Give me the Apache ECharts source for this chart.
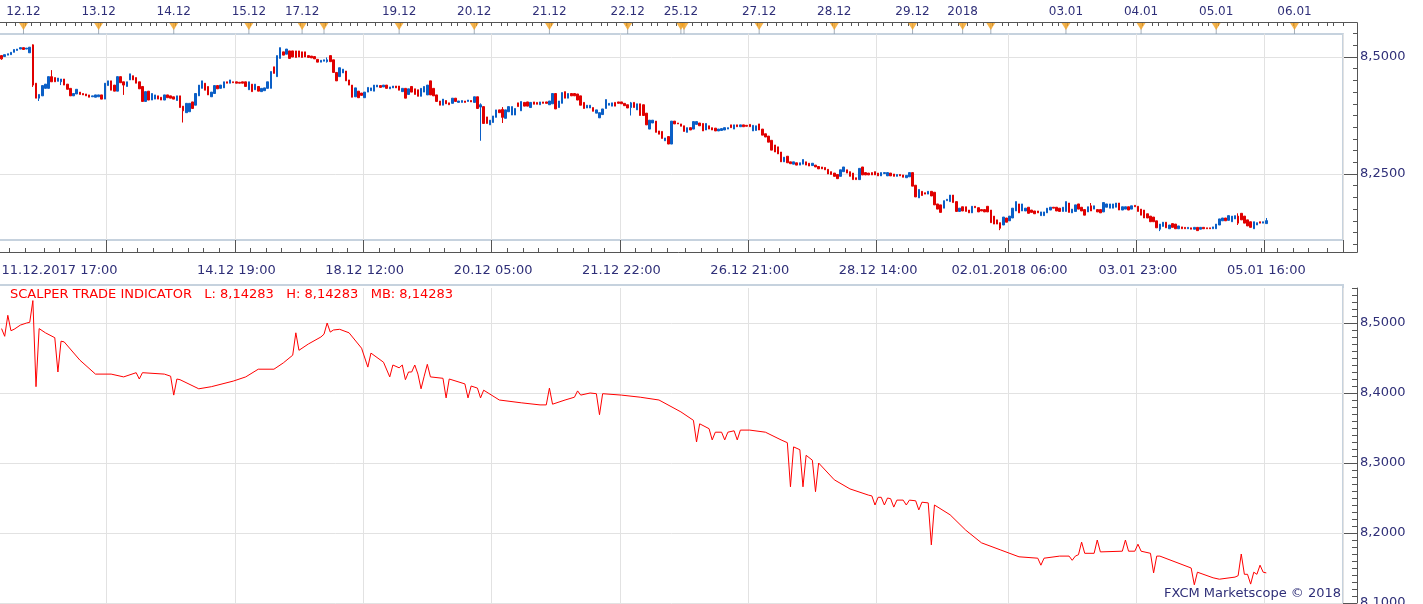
<!DOCTYPE html>
<html><head><meta charset="utf-8">
<script src="https://cdn.jsdelivr.net/npm/echarts@6/dist/echarts.min.js"></script>
<style>html,body{margin:0;padding:0;background:#fff;overflow:hidden}#c{width:1423px;height:604px}</style>
</head><body><div id="c"></div>
<script>
// ---------------- DATA ----------------
const SLOTS = 429; // hourly slots on the time axis (bars + empty future slots)
// hourly candles [open, close, low, high]
const candles = [
[8.503,8.496,8.494,8.503],[8.501,8.505,8.501,8.505],[8.504,8.507,8.504,8.507],[8.505,8.510,8.505,8.510],[8.510,8.516,8.510,8.516],
[8.514,8.517,8.514,8.517],[8.517,8.520,8.517,8.520],[8.520,8.516,8.516,8.520],[8.517,8.519,8.517,8.519],[8.509,8.521,8.509,8.521],
[8.526,8.440,8.436,8.527],[8.444,8.412,8.412,8.444],[8.412,8.420,8.406,8.420],[8.417,8.439,8.417,8.439],[8.433,8.442,8.433,8.442],
[8.433,8.458,8.433,8.458],[8.458,8.447,8.447,8.472],[8.456,8.447,8.447,8.456],[8.448,8.455,8.448,8.455],[8.447,8.453,8.440,8.453],
[8.453,8.440,8.440,8.453],[8.442,8.431,8.431,8.442],[8.433,8.417,8.417,8.433],[8.417,8.422,8.417,8.422],[8.421,8.431,8.421,8.431],
[8.425,8.420,8.420,8.425],[8.422,8.419,8.419,8.422],[8.421,8.417,8.417,8.421],[8.419,8.414,8.414,8.419],[8.415,8.417,8.415,8.417],
[8.414,8.419,8.414,8.419],[8.415,8.419,8.415,8.419],[8.419,8.410,8.410,8.419],[8.410,8.444,8.410,8.444],[8.439,8.449,8.439,8.449],
[8.449,8.429,8.429,8.449],[8.440,8.427,8.427,8.440],[8.427,8.458,8.427,8.458],[8.458,8.445,8.445,8.458],[8.447,8.440,8.419,8.447],
[8.437,8.447,8.437,8.447],[8.451,8.464,8.451,8.464],[8.460,8.451,8.451,8.460],[8.456,8.444,8.444,8.456],[8.447,8.432,8.432,8.447],
[8.437,8.405,8.405,8.437],[8.405,8.426,8.405,8.426],[8.427,8.408,8.408,8.427],[8.408,8.422,8.408,8.422],[8.410,8.419,8.410,8.419],
[8.417,8.410,8.410,8.417],[8.414,8.408,8.408,8.414],[8.408,8.419,8.408,8.419],[8.419,8.413,8.413,8.419],[8.417,8.412,8.412,8.417],
[8.415,8.410,8.410,8.415],[8.407,8.417,8.407,8.417],[8.417,8.392,8.392,8.417],[8.395,8.385,8.360,8.395],[8.381,8.401,8.381,8.401],
[8.383,8.401,8.383,8.401],[8.404,8.390,8.390,8.404],[8.397,8.422,8.397,8.422],[8.417,8.440,8.417,8.440],[8.433,8.449,8.433,8.449],
[8.444,8.429,8.429,8.444],[8.437,8.419,8.419,8.437],[8.415,8.425,8.415,8.425],[8.422,8.439,8.422,8.439],[8.439,8.432,8.432,8.439],
[8.433,8.440,8.433,8.440],[8.434,8.447,8.434,8.447],[8.447,8.444,8.444,8.447],[8.444,8.451,8.444,8.451],[8.447,8.445,8.445,8.447],
[8.447,8.444,8.444,8.447],[8.446,8.444,8.444,8.446],[8.447,8.444,8.444,8.447],[8.447,8.437,8.437,8.447],[8.430,8.447,8.430,8.447],
[8.442,8.426,8.426,8.442],[8.430,8.442,8.430,8.442],[8.437,8.427,8.427,8.437],[8.426,8.433,8.426,8.433],[8.428,8.434,8.428,8.434],
[8.433,8.447,8.433,8.447],[8.433,8.469,8.433,8.469],[8.479,8.465,8.465,8.479],[8.458,8.503,8.458,8.503],[8.497,8.520,8.497,8.520],
[8.511,8.504,8.504,8.511],[8.506,8.517,8.506,8.517],[8.513,8.497,8.497,8.513],[8.513,8.500,8.500,8.513],[8.513,8.499,8.499,8.513],
[8.513,8.500,8.500,8.513],[8.511,8.499,8.499,8.511],[8.511,8.500,8.500,8.511],[8.503,8.499,8.499,8.503],[8.502,8.498,8.498,8.502],
[8.501,8.496,8.496,8.501],[8.495,8.489,8.489,8.495],[8.489,8.493,8.489,8.493],[8.491,8.494,8.491,8.494],[8.490,8.494,8.488,8.499],
[8.503,8.490,8.490,8.503],[8.494,8.467,8.467,8.494],[8.467,8.449,8.449,8.467],[8.458,8.477,8.458,8.477],[8.466,8.474,8.466,8.474],
[8.470,8.449,8.449,8.470],[8.451,8.440,8.440,8.451],[8.440,8.414,8.414,8.440],[8.415,8.434,8.415,8.434],[8.427,8.413,8.413,8.427],
[8.423,8.418,8.418,8.423],[8.413,8.425,8.413,8.425],[8.425,8.435,8.425,8.435],[8.428,8.434,8.428,8.434],[8.427,8.440,8.427,8.440],
[8.436,8.440,8.436,8.440],[8.439,8.435,8.435,8.439],[8.436,8.440,8.436,8.440],[8.440,8.433,8.433,8.440],[8.432,8.436,8.432,8.436],
[8.434,8.438,8.434,8.438],[8.438,8.434,8.434,8.438],[8.438,8.429,8.429,8.438],[8.426,8.433,8.426,8.433],[8.433,8.412,8.412,8.433],
[8.420,8.432,8.420,8.432],[8.437,8.425,8.425,8.437],[8.432,8.420,8.420,8.432],[8.430,8.416,8.416,8.430],[8.416,8.433,8.416,8.433],
[8.425,8.437,8.425,8.437],[8.419,8.440,8.419,8.440],[8.449,8.419,8.419,8.449],[8.433,8.417,8.417,8.433],[8.419,8.405,8.405,8.419],
[8.406,8.397,8.397,8.406],[8.397,8.410,8.397,8.410],[8.407,8.400,8.400,8.407],[8.402,8.398,8.398,8.402],[8.401,8.412,8.401,8.412],
[8.412,8.405,8.405,8.412],[8.403,8.406,8.403,8.406],[8.403,8.407,8.403,8.407],[8.406,8.403,8.403,8.406],[8.405,8.408,8.405,8.408],
[8.407,8.404,8.404,8.407],[8.403,8.415,8.403,8.415],[8.415,8.390,8.390,8.415],[8.393,8.398,8.321,8.401],[8.394,8.358,8.358,8.394],
[8.372,8.358,8.358,8.372],[8.355,8.365,8.355,8.365],[8.360,8.374,8.360,8.374],[8.371,8.387,8.371,8.387],[8.387,8.381,8.381,8.387],
[8.388,8.371,8.359,8.393],[8.369,8.387,8.369,8.387],[8.383,8.394,8.383,8.394],[8.376,8.394,8.376,8.394],[8.376,8.390,8.376,8.390],
[8.402,8.394,8.394,8.402],[8.385,8.405,8.385,8.405],[8.403,8.395,8.395,8.403],[8.404,8.395,8.395,8.404],[8.392,8.403,8.392,8.403],
[8.404,8.399,8.399,8.404],[8.403,8.399,8.399,8.403],[8.398,8.404,8.398,8.404],[8.404,8.401,8.401,8.404],[8.404,8.401,8.401,8.404],
[8.398,8.406,8.398,8.406],[8.400,8.422,8.400,8.422],[8.422,8.389,8.389,8.422],[8.392,8.406,8.392,8.406],[8.401,8.424,8.401,8.424],
[8.426,8.412,8.412,8.426],[8.412,8.422,8.412,8.422],[8.422,8.417,8.417,8.422],[8.422,8.417,8.417,8.422],[8.421,8.408,8.408,8.421],
[8.417,8.397,8.397,8.417],[8.403,8.390,8.390,8.403],[8.391,8.397,8.391,8.397],[8.391,8.397,8.391,8.397],[8.392,8.384,8.384,8.392],
[8.380,8.387,8.380,8.387],[8.370,8.381,8.370,8.381],[8.377,8.389,8.377,8.389],[8.390,8.409,8.390,8.409],[8.397,8.401,8.397,8.401],
[8.395,8.402,8.395,8.402],[8.403,8.395,8.395,8.403],[8.404,8.401,8.401,8.404],[8.404,8.400,8.400,8.404],[8.401,8.396,8.396,8.401],
[8.398,8.391,8.391,8.398],[8.392,8.402,8.375,8.404],[8.403,8.392,8.392,8.403],[8.387,8.400,8.387,8.400],[8.400,8.375,8.375,8.400],
[8.398,8.375,8.375,8.398],[8.380,8.355,8.355,8.380],[8.346,8.365,8.346,8.365],[8.359,8.365,8.359,8.365],[8.363,8.339,8.339,8.363],
[8.342,8.335,8.335,8.342],[8.341,8.326,8.326,8.341],[8.321,8.327,8.321,8.327],[8.330,8.314,8.314,8.330],[8.314,8.363,8.314,8.363],
[8.363,8.357,8.357,8.363],[8.359,8.357,8.357,8.359],[8.357,8.352,8.352,8.357],[8.353,8.341,8.341,8.353],[8.339,8.349,8.339,8.349],
[8.349,8.344,8.344,8.349],[8.346,8.362,8.346,8.362],[8.356,8.362,8.356,8.362],[8.359,8.353,8.353,8.359],[8.358,8.342,8.342,8.358],
[8.344,8.358,8.344,8.358],[8.353,8.346,8.346,8.353],[8.349,8.344,8.344,8.349],[8.348,8.342,8.342,8.348],[8.342,8.346,8.342,8.346],
[8.343,8.347,8.343,8.347],[8.344,8.349,8.344,8.349],[8.346,8.349,8.346,8.349],[8.355,8.349,8.349,8.355],[8.346,8.355,8.346,8.355],
[8.355,8.351,8.351,8.355],[8.351,8.355,8.351,8.355],[8.355,8.351,8.351,8.355],[8.354,8.352,8.352,8.354],[8.356,8.351,8.351,8.356],
[8.342,8.354,8.342,8.354],[8.343,8.353,8.343,8.353],[8.357,8.344,8.344,8.357],[8.346,8.333,8.333,8.346],[8.336,8.329,8.329,8.336],
[8.331,8.318,8.318,8.331],[8.322,8.301,8.301,8.322],[8.312,8.297,8.297,8.312],[8.308,8.293,8.293,8.308],[8.297,8.276,8.276,8.297],
[8.276,8.286,8.276,8.286],[8.288,8.274,8.274,8.288],[8.276,8.272,8.272,8.276],[8.271,8.276,8.271,8.276],[8.274,8.269,8.269,8.274],
[8.269,8.274,8.269,8.274],[8.271,8.281,8.271,8.281],[8.276,8.269,8.269,8.276],[8.273,8.267,8.267,8.273],[8.268,8.273,8.268,8.273],
[8.269,8.265,8.265,8.269],[8.266,8.261,8.261,8.266],[8.265,8.261,8.261,8.265],[8.264,8.259,8.259,8.264],[8.260,8.250,8.250,8.260],
[8.255,8.249,8.249,8.255],[8.252,8.245,8.245,8.252],[8.249,8.240,8.240,8.249],[8.245,8.259,8.245,8.259],[8.255,8.265,8.255,8.265],
[8.259,8.252,8.252,8.259],[8.255,8.245,8.245,8.255],[8.252,8.238,8.238,8.252],[8.242,8.238,8.238,8.242],[8.238,8.262,8.238,8.262],
[8.265,8.248,8.248,8.265],[8.253,8.248,8.248,8.253],[8.252,8.248,8.248,8.252],[8.253,8.248,8.248,8.253],[8.255,8.248,8.248,8.255],
[8.252,8.246,8.246,8.252],[8.246,8.253,8.246,8.253],[8.251,8.253,8.251,8.253],[8.246,8.253,8.246,8.253],[8.252,8.246,8.246,8.252],
[8.250,8.245,8.245,8.250],[8.245,8.249,8.245,8.249],[8.249,8.246,8.246,8.249],[8.248,8.243,8.243,8.248],[8.242,8.247,8.242,8.247],
[8.244,8.253,8.244,8.253],[8.253,8.224,8.224,8.253],[8.226,8.201,8.201,8.226],[8.199,8.217,8.199,8.217],[8.213,8.204,8.204,8.213],
[8.210,8.207,8.207,8.210],[8.207,8.213,8.207,8.213],[8.213,8.203,8.203,8.213],[8.211,8.184,8.184,8.211],[8.186,8.175,8.175,8.186],
[8.184,8.168,8.168,8.184],[8.177,8.193,8.177,8.193],[8.193,8.196,8.193,8.196],[8.191,8.205,8.191,8.205],[8.205,8.189,8.189,8.205],
[8.191,8.170,8.170,8.191],[8.170,8.177,8.170,8.177],[8.180,8.171,8.171,8.180],[8.180,8.170,8.170,8.180],[8.173,8.167,8.167,8.173],
[8.167,8.181,8.167,8.181],[8.181,8.178,8.178,8.181],[8.178,8.169,8.169,8.178],[8.174,8.171,8.171,8.174],[8.174,8.169,8.169,8.174],
[8.181,8.169,8.169,8.181],[8.173,8.146,8.146,8.173],[8.160,8.143,8.143,8.160],[8.152,8.143,8.143,8.152],[8.146,8.134,8.130,8.146],
[8.141,8.158,8.141,8.158],[8.156,8.147,8.147,8.156],[8.150,8.160,8.150,8.160],[8.156,8.177,8.156,8.177],[8.171,8.191,8.171,8.191],
[8.186,8.167,8.167,8.186],[8.171,8.186,8.171,8.186],[8.171,8.177,8.171,8.177],[8.179,8.166,8.166,8.179],[8.173,8.168,8.168,8.173],
[8.171,8.165,8.165,8.171],[8.171,8.167,8.167,8.171],[8.161,8.169,8.161,8.169],[8.161,8.169,8.161,8.169],[8.167,8.177,8.167,8.177],
[8.173,8.179,8.173,8.179],[8.179,8.177,8.177,8.179],[8.179,8.171,8.171,8.179],[8.177,8.170,8.170,8.177],[8.170,8.179,8.170,8.179],
[8.170,8.191,8.170,8.191],[8.188,8.168,8.168,8.188],[8.167,8.175,8.167,8.175],[8.170,8.184,8.170,8.184],[8.186,8.175,8.175,8.186],
[8.179,8.171,8.171,8.179],[8.174,8.162,8.162,8.174],[8.169,8.180,8.169,8.180],[8.182,8.171,8.171,8.188],[8.175,8.182,8.175,8.182],
[8.174,8.169,8.169,8.174],[8.174,8.167,8.167,8.174],[8.169,8.189,8.169,8.189],[8.179,8.186,8.179,8.186],[8.177,8.186,8.177,8.186],
[8.177,8.186,8.177,8.186],[8.179,8.188,8.179,8.188],[8.188,8.173,8.173,8.188],[8.173,8.180,8.173,8.180],[8.175,8.180,8.175,8.180],
[8.180,8.173,8.173,8.180],[8.175,8.182,8.175,8.182],[8.183,8.180,8.180,8.183],[8.181,8.170,8.170,8.181],[8.175,8.162,8.162,8.175],
[8.173,8.156,8.156,8.173],[8.165,8.156,8.156,8.165],[8.160,8.148,8.148,8.160],[8.158,8.148,8.148,8.158],[8.150,8.135,8.135,8.150],
[8.132,8.143,8.128,8.143],[8.138,8.147,8.138,8.147],[8.147,8.135,8.135,8.147],[8.133,8.141,8.133,8.141],[8.144,8.136,8.136,8.144],
[8.143,8.133,8.133,8.143],[8.133,8.139,8.133,8.139],[8.137,8.133,8.133,8.137],[8.136,8.133,8.133,8.136],[8.133,8.136,8.133,8.136],
[8.135,8.132,8.132,8.135],[8.132,8.136,8.132,8.136],[8.136,8.129,8.129,8.136],[8.132,8.136,8.132,8.136],[8.136,8.133,8.133,8.136],
[8.135,8.133,8.133,8.135],[8.135,8.133,8.133,8.135],[8.133,8.137,8.133,8.137],[8.133,8.143,8.133,8.143],[8.141,8.154,8.141,8.154],
[8.150,8.156,8.150,8.156],[8.156,8.150,8.150,8.156],[8.151,8.161,8.151,8.161],[8.148,8.160,8.148,8.160],[8.154,8.161,8.154,8.161],
[8.160,8.145,8.141,8.166],[8.166,8.152,8.152,8.166],[8.160,8.145,8.145,8.160],[8.152,8.139,8.139,8.152],[8.148,8.136,8.136,8.148],
[8.133,8.148,8.133,8.148],[8.141,8.146,8.141,8.146],[8.148,8.145,8.145,8.148],[8.145,8.148,8.145,8.148],[8.144,8.15035,8.144,8.156]
];
// indicator line vertices [bar index, value]
const indicator = [
[0,8.492],[1,8.481],[2,8.511],[3,8.489],[4,8.491],[6,8.497],[8,8.500],[9,8.501],[10,8.532],[11,8.409],[12,8.492],[14,8.486],
[17,8.479],[18,8.430],[19,8.474],[20,8.473],[25,8.447],[30,8.427],[35,8.427],[39,8.423],[43,8.429],[44,8.420],[45,8.429],[52,8.427],
[54,8.424],[55,8.397],[56,8.420],[57,8.419],[63,8.406],[67,8.409],[74,8.417],[78,8.423],[82,8.434],[87,8.434],[90,8.443],[93,8.454],
[94,8.486],[95,8.461],[98,8.470],[102,8.480],[103,8.484],[104,8.500],[105,8.487],[106,8.490],[108,8.491],[111,8.486],[115,8.464],
[117,8.437],[118,8.457],[122,8.444],[124,8.423],[125,8.440],[127,8.436],[128,8.440],[129,8.419],[130,8.430],[131,8.430],[132,8.440],
[133,8.427],[134,8.406],[135,8.424],[136,8.441],[137,8.423],[141,8.421],[142,8.393],[143,8.420],[148,8.413],[149,8.393],[150,8.410],
[152,8.407],[153,8.393],[154,8.404],[159,8.390],[166,8.386],[172,8.383],[174,8.383],[175,8.407],[176,8.384],[180,8.390],[183,8.394],
[184,8.403],[185,8.397],[188,8.400],[190,8.399],[191,8.369],[192,8.399],[198,8.397],[204,8.394],[210,8.390],[217,8.373],[221,8.361],
[222,8.330],[223,8.356],[226,8.349],[227,8.333],[228,8.344],[230,8.344],[231,8.333],[232,8.344],[234,8.346],[235,8.333],[236,8.347],
[239,8.347],[244,8.344],[249,8.333],[251,8.329],[252,8.266],[253,8.323],[255,8.319],[256,8.266],[257,8.311],[259,8.304],[260,8.259],
[261,8.300],[266,8.276],[271,8.263],[277,8.254],[278,8.253],[279,8.240],[280,8.251],[281,8.251],[282,8.240],[283,8.250],[284,8.249],
[285,8.237],[286,8.247],[288,8.247],[289,8.240],[290,8.247],[292,8.246],[293,8.233],[294,8.244],[296,8.243],[297,8.183],[298,8.240],
[303,8.226],[308,8.204],[313,8.186],[319,8.176],[325,8.166],[331,8.164],[332,8.154],[333,8.164],[338,8.167],[341,8.167],[342,8.161],
[343,8.167],[344,8.169],[345,8.187],[346,8.171],[349,8.171],[350,8.190],[351,8.173],[358,8.174],[359,8.190],[360,8.174],[362,8.174],
[363,8.184],[364,8.174],[367,8.171],[368,8.143],[369,8.167],[370,8.167],[380,8.150],[381,8.126],[382,8.144],[387,8.136],[389,8.134],
[394,8.137],[395,8.139],[396,8.170],[397,8.141],[398,8.141],[399,8.127],[400,8.144],[401,8.141],[402,8.154],[403,8.144],[404,8.143]
];
const indicatorTitle = 'SCALPER TRADE INDICATOR   L: 8,14283   H: 8,14283   MB: 8,14283';
const copyrightText = 'FXCM Marketscope \u00A9 2018';
// time axis (between panes)
const majorTimeIdx = [34,75,116,157,198,239,280,322,363,404];
const timeLabelIdx = [0,75,116,157,198,239,280,322,363,404];
const timeLabelText = ['11.12.2017 17:00','14.12 19:00','18.12 12:00','20.12 05:00','21.12 22:00','26.12 21:00','28.12 14:00','02.01.2018 06:00','03.01 23:00','05.01 16:00'];
// date markers (top axis)
const dateMarkIdx = [7,31,55,79,96,103,127,151,175,200,217,218,242,266,291,307,316,340,364,388,413];
const dateLabelIdx = [7,31,55,79,96,127,151,175,200,217,242,266,291,307,340,364,388,413];
const dateLabelText = ['12.12','13.12','14.12','15.12','17.12','19.12','20.12','21.12','22.12','25.12','27.12','28.12','29.12','2018','03.01','04.01','05.01','06.01'];
// price axis labels
const topPriceLabels = [8.25, 8.5];
const bottomPriceLabels = [8.1, 8.2, 8.3, 8.4, 8.5];

// ---------------- CHART ----------------
const UP = '#0b5fc6', DOWN = '#e00000';
const axisColor = '#555555', textColor = '#2f2f78', gridLine = '#e2e2e2', boxColor = '#c6d2de';
const T = 'rgba(0,0,0,0)';
const cats = Array.from({length: SLOTS}, (_, i) => String(i));
const lastPrice = candles[candles.length - 1][1];
const fmt = (v, d) => v.toFixed(d).replace('.', ',');
const near = (v, arr) => arr.some(a => Math.abs(a - v) < 1e-6);
const majorSet = new Set(majorTimeIdx);
const timeLabelSet = new Set(timeLabelIdx);
const dateLabelSet = new Set(dateLabelIdx);
const minorSet = new Set();
for (let k = -7; k <= 80; k++) { const v = Math.round(34 + 41 / 8 * k); if (v >= 0 && v <= SLOTS) minorSet.add(v); }
const topTickSet = new Set();
for (let k = -3; k <= 170; k++) { const v = Math.round(7.5 + 2.667 * k); if (v >= 0 && v <= SLOTS) topTickSet.add(v); }
const topSplitColors = Array.from({length: 10}, (_, i) => i === 6 ? gridLine : T);
const bottomSplitColors = Array.from({length: 10}, (_, i) => i === 0 ? gridLine : T);

const chart = echarts.init(document.getElementById('c'));
const labelFont = {fontFamily: 'DejaVu Sans', color: textColor};
const G = (o) => Object.assign({outerBoundsMode: 'none', containLabel: false}, o);
chart.setOption({
  animation: false,
  backgroundColor: '#ffffff',
  textStyle: {fontFamily: 'DejaVu Sans'},
  title: [
    {text: indicatorTitle, left: 10, top: 288, padding: 0, textStyle: {color: '#ff0000', fontSize: 13, fontWeight: 'normal', fontFamily: 'DejaVu Sans'}},
    {text: copyrightText, right: 82, top: 587, padding: 0, textStyle: {color: textColor, fontSize: 13, fontWeight: 'normal', fontFamily: 'DejaVu Sans'}}
  ],
  grid: [
    G({left: 0, width: 1343, top: 33.6, height: 210.6}),
    G({left: 0, width: 1343, top: 288, height: 315}),
    G({left: 0, width: 1343, top: 22, height: 12}),
    G({left: 1343, width: 14, top: 33.6, height: 210.6}),
    G({left: 0, width: 1343, top: 240, height: 12}),
    G({left: 1343, width: 14, top: 288, height: 315})
  ],
  xAxis: [
    {type: 'category', gridIndex: 0, data: cats, position: 'bottom', offset: 7.8,
     axisLine: {show: false},
     axisTick: {show: true, inside: true, length: 12, interval: (i) => majorSet.has(i), lineStyle: {color: axisColor}},
     axisLabel: {show: true, interval: (i) => timeLabelSet.has(i), formatter: (v) => timeLabelText[timeLabelIdx.indexOf(Number(v))] || '',
                 fontSize: 13, margin: 12, alignMinLabel: 'left', ...labelFont},
     splitLine: {show: true, interval: (i) => majorSet.has(i), lineStyle: {color: gridLine}}},
    {type: 'category', gridIndex: 0, data: cats, position: 'top', offset: 11.6,
     axisLine: {show: false},
     axisTick: {show: true, inside: true, length: 4, interval: (i) => topTickSet.has(i), lineStyle: {color: axisColor}},
     axisLabel: {show: true, interval: (i) => dateLabelSet.has(i), formatter: (v) => dateLabelText[dateLabelIdx.indexOf(Number(v))] || '',
                 fontSize: 12, margin: 4, ...labelFont},
     splitLine: {show: false}},
    {type: 'category', gridIndex: 1, data: cats,
     axisLine: {show: false}, axisTick: {show: false}, axisLabel: {show: false},
     splitLine: {show: true, interval: (i) => majorSet.has(i), lineStyle: {color: gridLine}}},
    {type: 'category', gridIndex: 2, data: cats, show: false},
    {type: 'category', gridIndex: 4, data: cats, position: 'bottom',
     axisLine: {show: false},
     axisTick: {show: true, inside: true, length: 4, interval: (i) => minorSet.has(i), lineStyle: {color: axisColor}},
     axisLabel: {show: false}, splitLine: {show: false}},
    {type: 'value', gridIndex: 3, show: false, min: 0, max: 1},
    {type: 'value', gridIndex: 5, show: false, min: 0, max: 1}
  ],
  yAxis: [
    {type: 'value', gridIndex: 0, position: 'right', offset: 14, min: 8.1, max: 8.55, interval: 0.025,
     axisLine: {show: false},
     axisTick: {show: true, inside: true, length: 4, lineStyle: {color: axisColor}},
     axisLabel: {formatter: (v) => near(v, topPriceLabels) ? fmt(v, 4) : '', fontSize: 13, margin: 3, ...labelFont},
     splitLine: {show: true, lineStyle: {color: topSplitColors}}},
    {type: 'value', gridIndex: 1, position: 'right', offset: 14, min: 8.1, max: 8.55, interval: 0.01,
     axisLine: {show: true, lineStyle: {color: axisColor}},
     axisTick: {show: true, inside: true, length: 5, lineStyle: {color: axisColor}},
     axisLabel: {formatter: (v) => near(v, bottomPriceLabels) ? fmt(v, 4) : '', fontSize: 13, margin: 3, ...labelFont},
     splitLine: {show: true, lineStyle: {color: bottomSplitColors}}},
    {type: 'value', gridIndex: 2, min: 0, max: 1, show: false},
    {type: 'value', gridIndex: 3, min: 8.1, max: 8.55, interval: 0.05,
     axisLine: {show: false}, axisTick: {show: false}, axisLabel: {show: false},
     splitLine: {show: true, lineStyle: {color: [T, T, T, axisColor, T]}}},
    {type: 'value', gridIndex: 4, show: false, min: 0, max: 1},
    {type: 'value', gridIndex: 5, min: 8.1, max: 8.55, interval: 0.1,
     axisLine: {show: false}, axisTick: {show: false}, axisLabel: {show: false},
     splitLine: {show: true, lineStyle: {color: [axisColor, axisColor, axisColor, axisColor, axisColor, T]}}}
  ],
  graphic: [
    {type: 'rect', silent: true, z: 0, shape: {x: -2, y: 34, width: 1345, height: 206}, style: {fill: 'none', stroke: boxColor, lineWidth: 2}},
    {type: 'rect', silent: true, z: 0, shape: {x: -2, y: 285, width: 1345, height: 400}, style: {fill: 'none', stroke: boxColor, lineWidth: 2}},
    {type: 'polyline', silent: true, z: 5, shape: {points: [[0, 22.5], [1357.5, 22.5], [1357.5, 252.5], [0, 252.5]]}, style: {fill: 'none', stroke: axisColor, lineWidth: 1}}
  ],
  series: [
    {type: 'candlestick', xAxisIndex: 0, yAxisIndex: 0, data: candles, barWidth: 2,
     itemStyle: {color: UP, color0: DOWN, borderColor: UP, borderColor0: DOWN, borderWidth: 1},
     markLine: {silent: true, symbol: 'none', animation: false,
       lineStyle: {opacity: 0},
       label: {show: true, position: 'end', distance: 14, formatter: () => fmt(lastPrice, 5),
               backgroundColor: '#5cc8f5', color: '#000', fontSize: 13, fontFamily: 'DejaVu Sans', padding: [3, 2, 2, 2]},
       data: [{yAxis: lastPrice}]}},
    {type: 'line', xAxisIndex: 2, yAxisIndex: 1, data: indicator, symbol: 'none', showSymbol: false,
     lineStyle: {color: '#ff0000', width: 1}},
    {type: 'scatter', xAxisIndex: 3, yAxisIndex: 2, data: dateMarkIdx.map(i => [i, 0.5]), symbol: 'rect', symbolSize: [1, 12],
     itemStyle: {color: '#8d9aa8'}, silent: true},
    {type: 'scatter', xAxisIndex: 3, yAxisIndex: 2, data: dateMarkIdx.map(i => [i, 0.667]), symbol: 'triangle', symbolRotate: 180,
     symbolSize: [10, 8], itemStyle: {color: '#f5a11e'}, silent: true}
  ]
});
</script></body></html>
